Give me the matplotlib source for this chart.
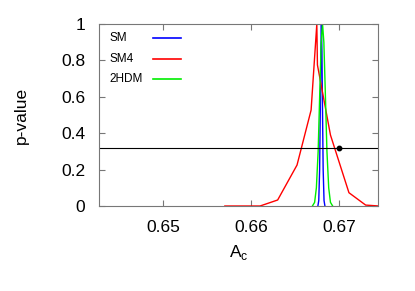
import matplotlib
matplotlib.use("Agg")
from matplotlib import pyplot as plt

plt.rcParams["font.family"] = ["Liberation Sans", "DejaVu Sans"]

# SM curve
sm_x = [0.66757, 0.66767, 0.66777, 0.66785, 0.66791, 0.66797, 0.66803, 0.66809, 0.66817, 0.66827, 0.66837]
sm_y = [0.0, 0.03, 0.2, 0.55, 0.85, 1.0, 0.85, 0.55, 0.2, 0.03, 0.0]

# SM4 curve
sm4_x = [0.6570, 0.6610, 0.6630, 0.6652, 0.6668, 0.66745, 0.66752, 0.6690, 0.6711, 0.6730, 0.6745]
sm4_y = [0.0, 0.0, 0.033, 0.225, 0.527, 1.0, 0.775, 0.39, 0.073, 0.005, 0.0]

# 2HDM curve
hdm_x = [0.66695, 0.6672, 0.6674, 0.6676, 0.6678, 0.66795, 0.6681, 0.66825, 0.6684, 0.6686, 0.6688, 0.6690, 0.66925]
hdm_y = [0.0, 0.02, 0.1, 0.3, 0.65, 0.9, 1.0, 0.9, 0.65, 0.3, 0.1, 0.02, 0.0]

measured_x = 0.6700
measured_p = 0.318

labels = ["SM", "SM4", "2HDM"]
colors = ["#0000ff", "#ff0000", "#00ee00"]

fig = plt.figure(figsize=(4.15, 2.91), dpi=100)
ax = fig.add_axes([0.2386, 0.2921, 0.6722, 0.6254])

ax.plot(sm_x, sm_y, color=colors[0], lw=1)
ax.plot(sm4_x, sm4_y, color=colors[1], lw=1)
ax.plot(hdm_x, hdm_y, color=colors[2], lw=1)
ax.axhline(measured_p, color="black", lw=0.8)
ax.plot([measured_x], [measured_p], "o", color="black", ms=3.2)

ax.set_xlim(0.6427, 0.6744)
ax.set_ylim(0, 1)
ax.set_xticks([0.65, 0.66, 0.67])
ax.set_yticks([0, 0.2, 0.4, 0.6, 0.8, 1])
ax.set_yticklabels(["0", "0.2", "0.4", "0.6", "0.8", "1"])
ax.tick_params(direction="in", top=True, right=True, length=4, width=0.8,
               color="#777777", labelsize=12.5, pad=10)
for s in ax.spines.values():
    s.set_color("#777777")
    s.set_linewidth(0.8)

ax.set_xlabel("A$_\\mathregular{c}$", fontsize=12.5, labelpad=6)
ax.set_ylabel("p-value", fontsize=12.5, labelpad=23)

# gnuplot-style key: label on the left, sample line on the right
key_y = [0.923, 0.808, 0.698]
for lab, col, yy in zip(labels, colors, key_y):
    ax.text(0.039, yy, lab, transform=ax.transAxes, fontsize=8.5, va="center", ha="left")
    ax.plot([0.194, 0.294], [yy, yy], transform=ax.transAxes, color=col, lw=1.2)

fig.savefig("out.png", dpi=100)
